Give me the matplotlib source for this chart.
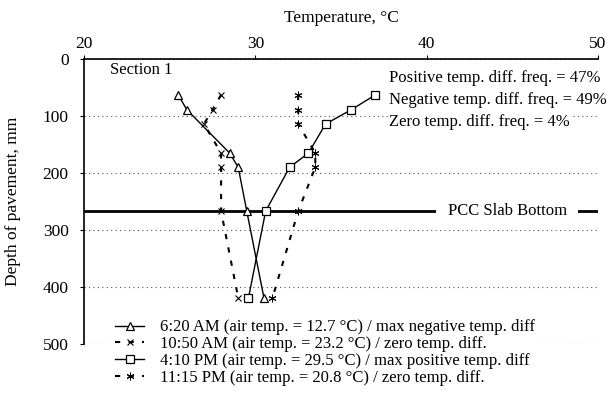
import matplotlib
matplotlib.use("Agg")
import matplotlib.pyplot as plt

plt.rcParams['font.family'] = ['Liberation Serif', 'DejaVu Serif']

# depth of pavement (mm) for each sensor
depth = [63, 89, 114, 165, 190, 267, 419]
depth_am620 = [63, 89, 165, 190, 267, 419]

temp_am620 = [25.5, 26.0, 28.5, 29.0, 29.5, 30.5]
temp_am1050 = [28.0, 27.5, 27.0, 28.0, 28.0, 28.0, 29.0]
temp_pm410 = [37.0, 35.6, 34.1, 33.1, 32.0, 30.6, 29.6]
temp_pm1115 = [32.5, 32.5, 32.5, 33.5, 33.5, 32.5, 31.0]

labels = [
    "6:20 AM (air temp. = 12.7 °C) / max negative temp. diff",
    "10:50 AM (air temp. = 23.2 °C) / zero temp. diff.",
    "4:10 PM (air temp. = 29.5 °C) / max positive temp. diff",
    "11:15 PM (air temp. = 20.8 °C) / zero temp. diff.",
]
pcc_depth = 267
freq_text = ["Positive temp. diff. freq. = 47%",
             "Negative temp. diff. freq. = 49%",
             "Zero temp. diff. freq. = 4%"]

fig = plt.figure(figsize=(6.16, 3.97), dpi=100)
ax = fig.add_axes([0.1364, 0.1335, 0.8344, 0.7179])

dash = (0, (2.5, 4))
ax.plot(temp_am620, depth_am620, color='black', lw=1, marker='^', ms=6,
        mfc='white', mec='black', mew=0.9, label=labels[0], zorder=3)
ax.plot(temp_am1050, depth, color='black', lw=1.5, ls=dash, marker='x', ms=5,
        mew=0.8, label=labels[1], zorder=3)
ax.plot(temp_pm410, depth, color='black', lw=1, marker='s', ms=6,
        mfc='white', mec='black', mew=0.9, label=labels[2], zorder=3)
ax.plot(temp_pm1115, depth, color='black', lw=1.5, ls=dash, marker=(6, 2, 0),
        ms=5.5, mew=0.7, label=labels[3], zorder=3)

ax.axhline(pcc_depth, color='black', lw=2, zorder=2)
ax.text(44.7, pcc_depth, "PCC Slab Bottom", fontsize=12, ha='center', va='center',
        zorder=4, bbox=dict(facecolor='white', edgecolor='none', pad=8))

ax.set_xlim(20, 50)
ax.set_ylim(500, 0)
ax.set_xticks([20, 30, 40, 50])
ax.set_yticks([0, 100, 200, 300, 400, 500])
ax.xaxis.tick_top()
ax.xaxis.set_label_position('top')
ax.set_xlabel("Temperature, °C", fontsize=12.5, labelpad=10)
ax.set_ylabel("Depth of pavement, mm", fontsize=12.5, labelpad=16)
ax.tick_params(labelsize=12.5, direction='out', length=3, width=0.8, pad=2)
ax.tick_params(axis='y', pad=8)
ax.grid(axis='y', ls=(0, (1, 3)), color='#555555', lw=0.8)
ax.set_axisbelow(True)
for side in ['right', 'bottom']:
    ax.spines[side].set_visible(False)
ax.spines['left'].set_linewidth(1.2)
ax.spines['top'].set_linewidth(1.2)

ax.text(21.5, 20, "Section 1", fontsize=12, ha='left', va='center')
for i, t in enumerate(freq_text):
    ax.text(37.8, 33 + i * 38.5, t, fontsize=12, ha='left', va='center',
            bbox=dict(facecolor='white', edgecolor='none', pad=1))

leg = fig.legend(loc='upper left', bbox_to_anchor=(112 / 616, 1 - 316 / 397),
                 frameon=True, fontsize=12, handlelength=1.7, handletextpad=1.0,
                 labelspacing=0.05, borderpad=0.2, borderaxespad=0)
leg.get_frame().set_edgecolor('none')
leg.get_frame().set_facecolor('white')
leg.get_frame().set_alpha(1)

fig.savefig("out.png", dpi=100)
